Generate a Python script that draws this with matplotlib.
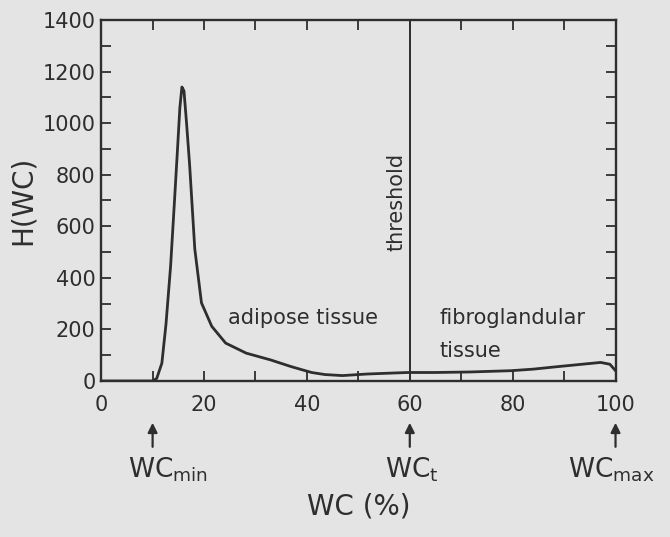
import matplotlib
matplotlib.use("Agg")
import matplotlib.pyplot as plt
from matplotlib.ticker import MultipleLocator

plt.rcParams['font.family'] = ['DejaVu Sans']
plt.rcParams['mathtext.default'] = 'regular'

# Histogram of water content H(WC)
wc = [0, 5, 10, 10.8, 11.8, 12.6, 13.5, 14.2, 14.85, 15.3, 15.7, 16.1, 16.6, 17.2,
      18.2, 19.5, 21.5, 24.2, 28.2, 32.9, 36.9, 40.9, 43.5, 46.9, 51.6, 55.5, 59.6,
      65, 71.7, 79.7, 84, 88.4, 93, 97.1, 98.9, 100]
h = [0, 0, 0, 10, 69, 220, 446, 680, 902, 1060, 1140, 1125, 1000, 837,
     512, 303, 212, 147, 108, 82, 56, 33, 25, 21, 27, 30, 33,
     33, 35, 40, 46, 55, 64, 72, 65, 40]

threshold = 60
xticks = [0, 20, 40, 60, 80, 100]
yticks = [0, 200, 400, 600, 800, 1000, 1200, 1400]
markers = [10, 60, 100]
marker_labels = ['WC$_{min}$', 'WC$_{t}$', 'WC$_{max}$']

bg = '#e4e4e4'
ink = '#2e2e2e'

fig = plt.figure(figsize=(6.7, 5.37), dpi=100, facecolor=bg)
ax = fig.add_axes([0.151, 0.2905, 0.7677, 0.6723], facecolor=bg)

ax.plot(wc, h, color=ink, lw=2.0)
ax.axvline(threshold, color=ink, lw=1.4)

ax.set_xlim(0, 100)
ax.set_ylim(0, 1400)
ax.set_xticks(xticks)
ax.set_yticks(yticks)
ax.xaxis.set_minor_locator(MultipleLocator(10))
ax.yaxis.set_minor_locator(MultipleLocator(100))
ax.tick_params(which='both', direction='in', top=True, right=True, colors=ink,
               width=1.3)
ax.tick_params(which='major', length=7, labelsize=15, labelcolor=ink)
ax.tick_params(which='minor', length=7)
ax.tick_params(axis='x', which='major', pad=10)
ax.tick_params(axis='y', which='major', pad=4)
for s in ax.spines.values():
    s.set_linewidth(1.7)
    s.set_color(ink)

ax.set_ylabel('H(WC)', fontsize=20, color=ink, labelpad=4)
ax.set_xlabel('WC (%)', fontsize=20, color=ink, labelpad=56)

ax.text(57.4, 695, 'threshold', rotation=90, ha='center', va='center',
        fontsize=15, color=ink)
ax.text(39.3, 246, 'adipose tissue', ha='center', va='center', fontsize=15,
        color=ink)
ax.text(65.8, 246, 'fibroglandular', ha='left', va='center', fontsize=15,
        color=ink)
ax.text(65.8, 115, 'tissue', ha='left', va='center', fontsize=15, color=ink)

text_dx = [3.0, 0.3, -0.8]
for xv, lab, dx in zip(markers, marker_labels, text_dx):
    ax.annotate('', xy=(xv, -0.108), xycoords=('data', 'axes fraction'),
                xytext=(xv, -0.19), textcoords=('data', 'axes fraction'),
                arrowprops=dict(arrowstyle='-|>', color=ink, lw=1.6,
                                mutation_scale=14),
                annotation_clip=False)
    ax.text(xv + dx, -0.245, lab, transform=ax.get_xaxis_transform(),
            ha='center', va='center', fontsize=19, color=ink, clip_on=False)

fig.savefig('out.png', dpi=100, facecolor=bg)
